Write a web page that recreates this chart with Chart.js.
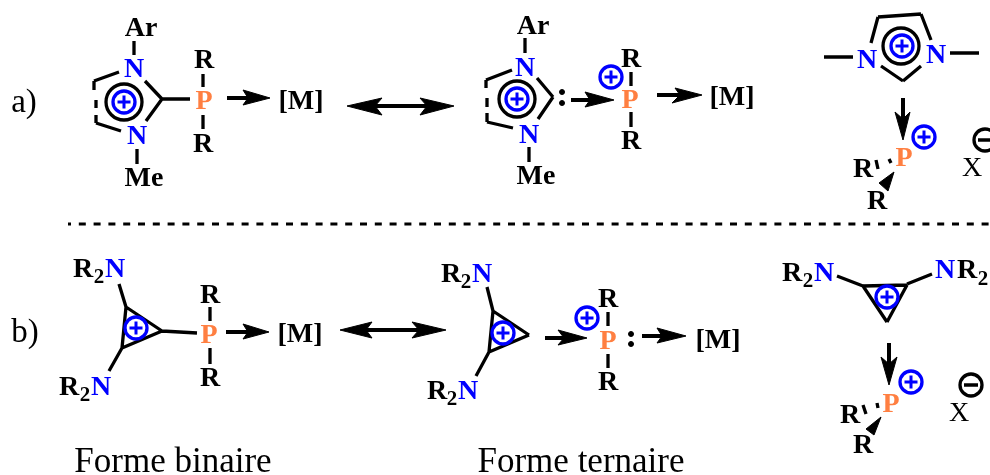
<!DOCTYPE html>
<html>
<head>
<meta charset="utf-8">
<title>Forme binaire / Forme ternaire</title>
<script src="https://cdn.jsdelivr.net/npm/chart.js@4/dist/chart.umd.min.js"></script>
<style>
    html, body { margin: 0; padding: 0; background: #fff; overflow: hidden; }
    canvas { display: block; }
</style>
</head>
<body>
<canvas id="scheme" width="990" height="475"></canvas>
<script>

// Solid bonds, each one [x1, y1, x2, y2]
const bonds = [
    // a) left
    [134, 41, 134, 55], [119, 72, 94, 81], [96, 123, 121, 131], [145, 81, 162, 99], [162, 99, 146, 121],
    [162, 99, 190, 99], [203, 74, 203, 87], [203, 115, 203, 129], [137, 149, 137, 164],
    // a) middle
    [525, 38, 525, 53], [512, 70, 486, 80], [487, 122, 513, 128], [537, 78, 553, 97], [553, 97, 538, 119],
    [529, 147, 529, 162], [631, 72, 631, 86], [631, 112, 631, 127],
    // a) right
    [824, 57, 853, 57], [950, 53, 979, 53], [871, 43, 878, 17], [878, 17, 921, 14], [921, 14, 931, 40],
    [881, 66, 903, 81], [903, 81, 921, 66],
    // b) left
    [119, 284, 126, 307], [126, 307, 162, 331], [162, 331, 122, 348], [122, 348, 126, 307],
    [122, 348, 109, 371], [162, 331, 197, 333], [210, 307, 210, 321], [210, 348, 210, 364],
    // b) middle
    [487, 287, 493, 311], [493, 311, 529, 335], [529, 335, 489, 352], [489, 352, 493, 311],
    [489, 352, 476, 376], [608, 312, 608, 326], [608, 354, 608, 368],
    // b) right
    [837, 276, 863, 286], [863, 286, 907, 285], [907, 285, 887, 322], [887, 322, 863, 286], [907, 284, 932, 274],
];

// Short pieces of the delocalised ring edges and the hashed bonds
const ringDashes = [
    [94, 81, 94, 90], [96, 100, 96, 108], [96, 115, 96, 123],
    [486, 80, 486, 88], [487, 98, 487, 107], [487, 113, 487, 122],
    [876, 160, 878, 169], [889, 159, 891, 163],
    [863, 405, 866, 414], [877, 403, 878, 408],
];

// Arrow shafts
const arrowShafts = [
    [227, 98, 250, 98], [375, 106, 427, 106], [571, 100, 591, 100], [657, 95, 681, 95], [903, 98, 903, 120],
    [226, 332, 249, 332], [366, 330, 419, 330], [545, 338, 565, 338], [642, 336, 663, 336], [889, 343, 889, 365],
];

// Arrow heads and wedges, each one a closed outline of [x, y] corners
const arrowHeads = [
    [[270, 98], [243, 90], [248, 98], [243, 105]],
    [[347, 106], [382, 98], [375, 106], [382, 115]],
    [[454, 106], [420, 98], [427, 106], [420, 115]],
    [[614, 100], [585, 92], [590, 100], [585, 107]],
    [[702, 95], [675, 88], [680, 95], [672, 103]],
    [[903, 140], [895, 112], [903, 119], [910, 112]],
    [[269, 332], [243, 324], [248, 332], [243, 339]],
    [[340, 330], [372, 322], [366, 330], [372, 338]],
    [[446, 330], [412, 322], [419, 330], [412, 338]],
    [[587, 338], [558, 330], [564, 338], [558, 345]],
    [[686, 336], [657, 328], [662, 336], [657, 343]],
    [[889, 385], [881, 357], [889, 364], [897, 357]],
];
const wedges = [
    [[894, 172], [879, 183], [888, 191]],
    [[881, 417], [866, 429], [874, 435]],
];

// Dashed separator between a) and b)
const separator = [[68, 224], [990, 224]];

// Centres of the circled charges and rings
const aromaticRings = [[124, 102], [517, 99], [901, 46]];
const plusCharges = [
    [124, 102], [517, 99], [611, 77], [902, 46], [924, 137],
    [136, 328], [503, 333], [587, 318], [887, 297], [911, 382],
];
const minusCharges = [[985, 140], [971, 385]];
const loneDots = [[562, 92], [562, 103], [631, 334], [631, 344]];

// Text, each one [text, centre x, baseline y]
const blackAtoms = [
    ['Ar', 141, 36], ['R', 204, 68], ['R', 203, 152], ['Me', 144, 186], ['[M]', 301, 109],
    ['Ar', 533, 34], ['Me', 536, 184], ['R', 631, 67], ['R', 631, 149], ['[M]', 732, 105],
    ['R', 863, 177], ['R', 877, 209],
    ['R', 83, 277], ['R', 69, 395], ['R', 210, 303], ['R', 210, 386], ['[M]', 300, 342],
    ['R', 451, 282], ['R', 437, 399], ['R', 608, 307], ['R', 608, 390], ['[M]', 718, 348],
    ['R', 792, 281], ['R', 967, 278], ['R', 850, 423], ['R', 863, 453],
];
const subscripts = [['2', 99, 283], ['2', 85, 401], ['2', 466, 288], ['2', 452, 405], ['2', 808, 287], ['2', 983, 285]];
const blueAtoms = [
    ['N', 134, 77], ['N', 137, 144], ['N', 525, 76], ['N', 529, 143], ['N', 867, 68], ['N', 936, 63],
    ['N', 115, 277], ['N', 101, 395], ['N', 482, 282], ['N', 468, 399], ['N', 824, 281], ['N', 945, 278],
];
const orangeAtoms = [['P', 204, 109], ['P', 630, 108], ['P', 904, 166], ['P', 209, 343], ['P', 608, 349], ['P', 891, 412]];
const counterIons = [['X', 972, 176], ['X', 959, 421]];
const panelLabels = [['a)', 24, 112], ['b)', 25, 342]];
const captions = [['Forme binaire', 173, 472], ['Forme ternaire', 581, 472]];

const BLACK = '#000000';
const BLUE = '#0000ff';
const ORANGE = '#ff7f41';
const SERIF = '"Liberation Serif", "Times New Roman", serif';

// Turns [x1, y1, x2, y2] pieces into one line with gaps between them
function segmentsToPoints(segments) {
    const points = [];
    segments.forEach(function (s) {
        points.push({ x: s[0], y: s[1] }, { x: s[2], y: s[3] }, { x: s[2], y: null });
    });
    return points;
}

function toPoints(pairs) {
    return pairs.map(function (p) {
        return { x: p[0], y: p[1] };
    });
}

function lineDataset(segments, width) {
    return {
        data: segmentsToPoints(segments),
        showLine: true,
        spanGaps: false,
        borderColor: BLACK,
        borderWidth: width,
        borderCapStyle: 'butt',
        pointRadius: 0,
    };
}

function outlineDataset(corners) {
    return {
        data: toPoints(corners.concat([corners[0]])),
        showLine: true,
        fill: 'shape',
        backgroundColor: BLACK,
        borderColor: BLACK,
        borderWidth: 1,
        tension: 0,
        pointRadius: 0,
    };
}

function markDataset(centres, style, radius, color, width, fillColor) {
    return {
        data: toPoints(centres),
        showLine: false,
        pointStyle: style,
        pointRadius: radius,
        pointBorderColor: color,
        pointBorderWidth: width,
        pointBackgroundColor: fillColor,
    };
}

// Draws the atom labels and captions at their place on the chart's scales
const textPlugin = {
    id: 'schemeText',
    afterDatasetsDraw: function (chart) {
        const ctx = chart.ctx;
        const xScale = chart.scales.x;
        const yScale = chart.scales.y;

        function drawLabels(labels, font, color) {
            ctx.font = font;
            ctx.fillStyle = color;
            ctx.textAlign = 'center';
            ctx.textBaseline = 'alphabetic';
            labels.forEach(function (label) {
                ctx.fillText(label[0], xScale.getPixelForValue(label[1]), yScale.getPixelForValue(label[2]));
            });
        }

        ctx.save();
        drawLabels(blackAtoms, 'bold 28px ' + SERIF, BLACK);
        drawLabels(subscripts, 'bold 21px ' + SERIF, BLACK);
        drawLabels(blueAtoms, 'bold 28px ' + SERIF, BLUE);
        drawLabels(orangeAtoms, 'bold 28px ' + SERIF, ORANGE);
        drawLabels(counterIons, '28px ' + SERIF, BLACK);
        drawLabels(panelLabels, '33px ' + SERIF, BLACK);
        drawLabels(captions, '35px ' + SERIF, BLACK);
        ctx.restore();
    }
};

const separatorDataset = lineDataset([separator[0].concat(separator[1])], 3);
separatorDataset.borderDash = [7, 7.8];
separatorDataset.borderDashOffset = 4;

new Chart(document.getElementById('scheme'), {
    type: 'scatter',
    data: {
        datasets: [
            markDataset(plusCharges, 'cross', 6.5, BLUE, 3),
            markDataset(minusCharges, 'line', 7, BLACK, 3.5),
            markDataset(plusCharges, 'circle', 11, BLUE, 3.3, '#ffffff'),
            markDataset(minusCharges, 'circle', 11, BLACK, 3.3, '#ffffff'),
            markDataset(aromaticRings, 'circle', 18, BLACK, 3.3, 'rgba(0,0,0,0)'),
            markDataset(loneDots, 'circle', 2.5, BLACK, 1, BLACK),
            lineDataset(bonds, 3.3),
            lineDataset(ringDashes, 3.3),
            lineDataset(arrowShafts, 4),
            separatorDataset,
        ].concat(arrowHeads.map(outlineDataset), wedges.map(outlineDataset)),
    },
    options: {
        responsive: false,
        animation: false,
        events: [],
        layout: { padding: 0, autoPadding: false },
        plugins: {
            legend: { display: false },
            tooltip: { enabled: false },
        },
        scales: {
            x: { type: 'linear', min: 0, max: 990, display: false },
            y: { type: 'linear', min: 0, max: 475, reverse: true, display: false },
        },
    },
    plugins: [textPlugin],
});
</script>
</body>
</html>
